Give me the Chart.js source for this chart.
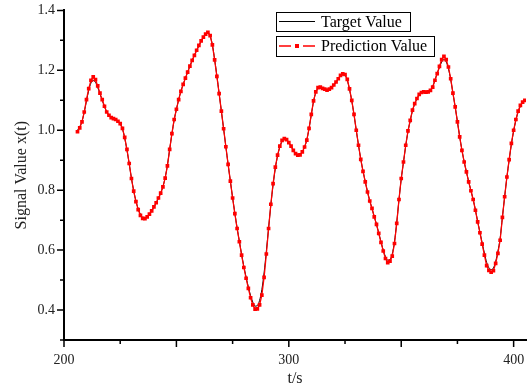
<!DOCTYPE html>
<html>
<head>
<meta charset="utf-8">
<script src="https://cdn.jsdelivr.net/npm/chart.js@4.4.1/dist/chart.umd.min.js"></script>
<style>
  html, body { margin: 0; padding: 0; background: #fff; }
  #wrap { width: 530px; height: 385px; position: relative; }
</style>
</head>
<body>
<div id="wrap"><canvas id="chart"></canvas></div>
<script>
// time axis: one sample per second starting here
const tStart = 206;

const targetValues = [
  1.000, 1.012, 1.030, 1.060, 1.098, 1.133, 1.158, 1.166, 1.160, 1.143,
  1.121, 1.100, 1.079, 1.061, 1.050, 1.043, 1.039, 1.036, 1.031, 1.022,
  1.005, 0.974, 0.934, 0.888, 0.840, 0.798, 0.764, 0.738, 0.719, 0.709,
  0.707, 0.712, 0.720, 0.731, 0.744, 0.758, 0.773, 0.790, 0.812, 0.842,
  0.884, 0.936, 0.988, 1.034, 1.070, 1.102, 1.130, 1.153, 1.174, 1.194,
  1.214, 1.233, 1.250, 1.266, 1.282, 1.297, 1.310, 1.320, 1.324, 1.314,
  1.285, 1.237, 1.182, 1.123, 1.064, 1.005, 0.945, 0.886, 0.830, 0.775,
  0.723, 0.674, 0.630, 0.586, 0.546, 0.510, 0.477, 0.448, 0.426, 0.413,
  0.415, 0.432, 0.468, 0.524, 0.596, 0.674, 0.750, 0.818, 0.873, 0.914,
  0.944, 0.962, 0.969, 0.967, 0.958, 0.946, 0.933, 0.923, 0.918, 0.919,
  0.928, 0.944, 0.968, 1.006, 1.052, 1.096, 1.126, 1.140, 1.143, 1.140,
  1.137, 1.135, 1.137, 1.142, 1.150, 1.160, 1.170, 1.180, 1.185, 1.183,
  1.167, 1.136, 1.098, 1.052, 1.000, 0.950, 0.904, 0.864, 0.829, 0.795,
  0.765, 0.739, 0.712, 0.686, 0.657, 0.628, 0.600, 0.578, 0.566, 0.568,
  0.587, 0.628, 0.692, 0.768, 0.837, 0.893, 0.948, 0.995, 1.032, 1.065,
  1.088, 1.105, 1.118, 1.125, 1.127, 1.127, 1.128, 1.133, 1.146, 1.168,
  1.190, 1.210, 1.228, 1.236, 1.228, 1.205, 1.170, 1.124, 1.078, 1.029,
  0.979, 0.934, 0.895, 0.861, 0.829, 0.799, 0.769, 0.734, 0.696, 0.660,
  0.624, 0.590, 0.559, 0.541, 0.535, 0.540, 0.562, 0.596, 0.640, 0.710,
  0.778, 0.843, 0.900, 0.953, 0.997, 1.033, 1.061, 1.080, 1.092, 1.098
];

const predictionValues = [
  0.995, 1.008, 1.028, 1.061, 1.102, 1.139, 1.167, 1.178, 1.169, 1.148,
  1.124, 1.102, 1.080, 1.061, 1.050, 1.042, 1.039, 1.036, 1.030, 1.022,
  1.006, 0.976, 0.936, 0.889, 0.839, 0.797, 0.762, 0.735, 0.716, 0.706,
  0.705, 0.711, 0.720, 0.731, 0.744, 0.758, 0.774, 0.790, 0.811, 0.840,
  0.881, 0.936, 0.989, 1.036, 1.070, 1.102, 1.130, 1.153, 1.174, 1.194,
  1.214, 1.233, 1.250, 1.267, 1.283, 1.298, 1.311, 1.321, 1.327, 1.316,
  1.285, 1.235, 1.180, 1.122, 1.064, 1.005, 0.945, 0.886, 0.830, 0.774,
  0.722, 0.672, 0.628, 0.583, 0.542, 0.506, 0.472, 0.441, 0.417, 0.403,
  0.404, 0.417, 0.450, 0.509, 0.587, 0.672, 0.753, 0.822, 0.877, 0.917,
  0.947, 0.966, 0.972, 0.969, 0.959, 0.947, 0.933, 0.922, 0.917, 0.918,
  0.928, 0.944, 0.967, 1.006, 1.053, 1.098, 1.128, 1.142, 1.144, 1.140,
  1.137, 1.134, 1.137, 1.142, 1.151, 1.161, 1.172, 1.183, 1.188, 1.186,
  1.170, 1.138, 1.100, 1.053, 1.000, 0.950, 0.903, 0.863, 0.828, 0.794,
  0.764, 0.739, 0.711, 0.686, 0.656, 0.626, 0.597, 0.572, 0.558, 0.563,
  0.580, 0.622, 0.689, 0.769, 0.839, 0.894, 0.950, 0.998, 1.033, 1.067,
  1.089, 1.106, 1.120, 1.126, 1.128, 1.127, 1.128, 1.133, 1.144, 1.167,
  1.189, 1.213, 1.236, 1.247, 1.236, 1.211, 1.172, 1.124, 1.078, 1.028,
  0.978, 0.933, 0.894, 0.861, 0.828, 0.798, 0.769, 0.733, 0.694, 0.658,
  0.620, 0.583, 0.548, 0.532, 0.526, 0.531, 0.556, 0.589, 0.633, 0.709,
  0.778, 0.844, 0.902, 0.956, 1.000, 1.036, 1.064, 1.083, 1.094, 1.100
];

const xMajorTicks = [200, 250, 300, 350, 400];
const xMinorTicks = [225, 275, 325, 375];
const xTickLabels = [200, 300, 400];
const yMajorTicks = [0.4, 0.6, 0.8, 1.0, 1.2, 1.4];
const yMinorTicks = [0.3, 0.5, 0.7, 0.9, 1.1, 1.3];
const seriesNames = ['Target Value', 'Prediction Value'];

const FONT = "'Liberation Serif', 'Times New Roman', serif";

const toPoints = vals => vals.map((v, i) => ({ x: tStart + i, y: v }));
const near = (list, v) => list.some(t => Math.abs(t - v) < 1e-6);

// outward tick marks, long on major and short on minor positions
const axisTicks = {
  id: 'axisTicks',
  afterDraw(chart) {
    const { ctx, chartArea, scales: { x, y } } = chart;
    ctx.save();
    ctx.strokeStyle = '#000';
    ctx.lineWidth = 1.5;
    ctx.beginPath();
    xMajorTicks.concat(xMinorTicks).forEach(v => {
      const px = x.getPixelForValue(v);
      const len = near(xMajorTicks, v) ? 7 : 4;
      ctx.moveTo(px, chartArea.bottom);
      ctx.lineTo(px, chartArea.bottom + len);
    });
    yMajorTicks.concat(yMinorTicks).forEach(v => {
      const py = y.getPixelForValue(v);
      const len = near(yMajorTicks, v) ? 7 : 4;
      ctx.moveTo(chartArea.left, py);
      ctx.lineTo(chartArea.left - len, py);
    });
    ctx.stroke();
    ctx.restore();
  }
};

// Origin-style legend: one framed box per series
const boxLegend = {
  id: 'boxLegend',
  afterDraw(chart) {
    const ctx = chart.ctx;
    const boxes = [
      { x: 276, y: 12, w: 134, h: 19 },
      { x: 276, y: 36, w: 158, h: 20 }
    ];
    ctx.save();
    ctx.font = '16px ' + FONT;
    ctx.textBaseline = 'middle';
    chart.data.datasets.forEach((ds, i) => {
      const b = boxes[i];
      const cy = b.y + b.h / 2;
      ctx.fillStyle = '#fff';
      ctx.fillRect(b.x, b.y, b.w, b.h);
      ctx.strokeStyle = '#000';
      ctx.lineWidth = 1;
      ctx.strokeRect(b.x + 0.5, b.y + 0.5, b.w, b.h);
      ctx.strokeStyle = ds.borderColor;
      ctx.lineWidth = ds.borderWidth;
      ctx.beginPath();
      if (ds.pointRadius > 0) {
        ctx.moveTo(279, cy); ctx.lineTo(291, cy);
        ctx.moveTo(303, cy); ctx.lineTo(315, cy);
        ctx.stroke();
        ctx.fillStyle = ds.pointBackgroundColor;
        ctx.fillRect(295, cy - 2, 4, 4);
      } else {
        ctx.moveTo(279, cy); ctx.lineTo(315, cy);
        ctx.stroke();
      }
      ctx.fillStyle = '#000';
      ctx.fillText(ds.label, 321, cy + 1);
    });
    ctx.restore();
  }
};

new Chart(document.getElementById('chart'), {
  type: 'line',
  data: {
    datasets: [
      {
        label: seriesNames[0],
        data: toPoints(targetValues),
        borderColor: '#000',
        borderWidth: 1,
        pointRadius: 0,
        cubicInterpolationMode: 'monotone',
        order: 2
      },
      {
        label: seriesNames[1],
        data: toPoints(predictionValues),
        borderColor: '#ff0000',
        borderWidth: 1.3,
        pointStyle: 'rect',
        pointRadius: 2.6,
        pointBorderWidth: 0,
        pointBackgroundColor: '#ff0000',
        tension: 0,
        order: 1
      }
    ]
  },
  options: {
    responsive: true,
    maintainAspectRatio: false,
    animation: false,
    layout: { padding: { top: 10, right: 0, left: 0, bottom: 0 } },
    plugins: { legend: { display: false }, tooltip: { enabled: false } },
    scales: {
      x: {
        type: 'linear',
        min: 200,
        max: 405.5,
        afterFit: s => { s.height = 45; },
        afterBuildTicks: s => {
          s.ticks = xMajorTicks.concat(xMinorTicks).sort((a, b) => a - b).map(v => ({ value: v }));
        },
        grid: { display: true, drawOnChartArea: false, drawTicks: true, tickLength: 7, tickColor: 'rgba(0,0,0,0)' },
        border: { display: true, color: '#000', width: 2 },
        ticks: {
          autoSkip: false, maxRotation: 0, padding: 5, color: '#222',
          font: { family: FONT, size: 14 },
          callback: v => near(xTickLabels, v) ? String(v) : ''
        },
        title: {
          display: true, text: 't/s', color: '#222',
          font: { family: FONT, size: 16, lineHeight: 1 },
          padding: { top: 0, bottom: -2 }
        }
      },
      y: {
        min: 0.3,
        max: 1.4,
        afterFit: s => { s.width = 64; },
        afterBuildTicks: s => {
          s.ticks = yMajorTicks.concat(yMinorTicks).sort((a, b) => a - b).map(v => ({ value: v }));
        },
        grid: { display: true, drawOnChartArea: false, drawTicks: true, tickLength: 7, tickColor: 'rgba(0,0,0,0)' },
        border: { display: true, color: '#000', width: 2 },
        ticks: {
          autoSkip: false, padding: 2, color: '#222',
          font: { family: FONT, size: 14 },
          callback: v => near(yMajorTicks, v) ? v.toFixed(1) : ''
        },
        title: {
          display: true, text: 'Signal Value x(t)', color: '#222',
          font: { family: FONT, size: 16, lineHeight: 1 },
          padding: { top: 14, bottom: 0 }
        }
      }
    }
  },
  plugins: [axisTicks, boxLegend]
});
</script>
</body>
</html>
